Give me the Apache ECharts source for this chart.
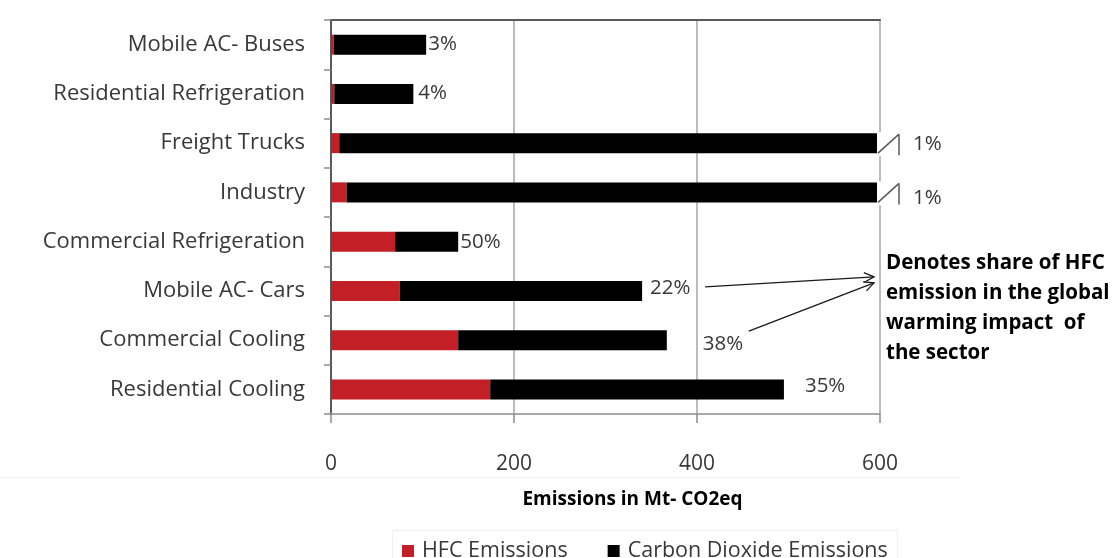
<!DOCTYPE html>
<html>
<head>
<meta charset="utf-8">
<title>HFC and CO2 emissions by sector</title>
<script src="https://cdn.jsdelivr.net/npm/echarts@6/dist/echarts.min.js"></script>
<style>
  html, body { margin: 0; padding: 0; background: #ffffff; }
  #main { width: 1113px; height: 558px; }
</style>
</head>
<body>
<div id="main"></div>
<script>
// Sectors, listed top to bottom
const categories = [
  'Mobile AC- Buses',
  'Residential Refrigeration',
  'Freight Trucks',
  'Industry',
  'Commercial Refrigeration',
  'Mobile AC- Cars',
  'Commercial Cooling',
  'Residential Cooling'
];

// Emissions in Mt CO2eq
const hfcEmissions = [3, 3.6, 9, 17, 70, 75, 139, 174];
const co2Emissions = [101, 86.4, 891, 1683, 69, 265, 228, 321];

const axisTicks = { min: 0, max: 600, step: 200 };

const seriesNames = ['HFC Emissions', 'Carbon Dioxide Emissions'];
const axisTitle = 'Emissions in Mt- CO2eq';
const noteLines = ['Denotes share of HFC', 'emission in the global', 'warming impact  of', 'the sector'];

// HFC share of each sector's total warming impact
function shareText(i) {
  const total = hfcEmissions[i] + co2Emissions[i];
  return Math.round(hfcEmissions[i] / total * 100) + '%';
}

// Small nudges for the share labels (x, y in px)
const labelNudge = {
  'Mobile AC- Buses': [0, 0],
  'Residential Refrigeration': [3, -1],
  'Freight Trucks': [31, 1],
  'Industry': [31, 6],
  'Commercial Refrigeration': [0, 1],
  'Mobile AC- Cars': [6, -3],
  'Commercial Cooling': [34, 4],
  'Residential Cooling': [19, -3]
};

const FONT = '"Open Sans", "Noto Sans", sans-serif';
const TEXT = '#383838';
const RED = '#C21F26';

const chart = echarts.init(document.getElementById('main'), null, { renderer: 'canvas' });

const co2Data = co2Emissions.map((v, i) => ({
  value: v,
  label: { offset: labelNudge[categories[i]] || [0, 0] }
}));

chart.setOption({
  animation: false,
  backgroundColor: '#ffffff',
  textStyle: { fontFamily: FONT },
  grid: { left: 331, right: 233, top: 20, bottom: 144, containLabel: false },
  legend: {
    data: seriesNames,
    left: 397,
    top: 535,
    icon: 'rect',
    itemWidth: 12,
    itemHeight: 12,
    itemGap: 40,
    textStyle: { fontFamily: FONT, fontSize: 21.5, color: TEXT, padding: [0, 0, 0, 3] }
  },
  xAxis: [
    {
      type: 'value',
      min: axisTicks.min,
      max: axisTicks.max,
      interval: axisTicks.step,
      axisLine: { show: true, lineStyle: { color: '#8c8c8c', width: 1.5 } },
      axisTick: { show: true, length: 9, lineStyle: { color: '#8c8c8c', width: 1.5 } },
      axisLabel: { margin: 40, fontSize: 21, color: TEXT, fontFamily: FONT },
      splitLine: { show: true, lineStyle: { color: '#a6a6a6', width: 1.5 } },
      name: axisTitle,
      nameLocation: 'middle',
      nameGap: 76,
      nameTextStyle: { fontFamily: FONT, fontSize: 19, fontWeight: 'bold', color: '#000', padding: [0, 0, 0, 54] }
    },
    {
      type: 'value',
      position: 'top',
      min: axisTicks.min,
      max: axisTicks.max,
      interval: axisTicks.step,
      axisLine: { show: true, lineStyle: { color: '#595959', width: 2 } },
      axisTick: { show: false },
      axisLabel: { show: false },
      splitLine: { show: false }
    }
  ],
  yAxis: [
    {
      type: 'category',
      inverse: true,
      data: categories,
      axisLine: { show: true, lineStyle: { color: '#8c8c8c', width: 1.5 } },
      axisTick: { show: true, length: 7, lineStyle: { color: '#8c8c8c', width: 1.5 } },
      axisLabel: { margin: 26, fontSize: 22, color: TEXT, fontFamily: FONT },
      splitLine: { show: false }
    },
    {
      type: 'category',
      inverse: true,
      position: 'right',
      data: categories,
      axisLine: { show: true, lineStyle: { color: '#595959', width: 2 } },
      axisTick: { show: false },
      axisLabel: { show: false }
    }
  ],
  series: [
    {
      name: seriesNames[0],
      type: 'bar',
      stack: 'total',
      barWidth: 20,
      itemStyle: { color: RED },
      data: hfcEmissions
    },
    {
      name: seriesNames[1],
      type: 'bar',
      stack: 'total',
      barWidth: 20,
      itemStyle: { color: '#000000' },
      label: {
        show: true,
        position: 'right',
        distance: 2,
        fontFamily: FONT,
        fontSize: 20.5,
        color: TEXT,
        formatter: p => shareText(p.dataIndex)
      },
      data: co2Data
    }
  ]
});

// Overlay: axis breaks on the clipped bars, callout arrows and the note
function toPx(v, i) { return chart.convertToPixel({ gridIndex: 0 }, [v, i]); }

const xEnd = toPx(axisTicks.max, 0)[0];
const graphics = [];
const LINE = { stroke: '#595959', lineWidth: 1.5 };

categories.forEach((c, i) => {
  const total = hfcEmissions[i] + co2Emissions[i];
  if (total > axisTicks.max) {
    const y = toPx(0, i)[1];
    graphics.push({ type: 'rect', shape: { x: xEnd - 3, y: y - 11, width: 8, height: 24 }, style: { fill: '#ffffff' }, z: 100 });
    graphics.push({ type: 'line', shape: { x1: xEnd - 2, y1: y + 10, x2: xEnd + 19, y2: y - 9 }, style: LINE, z: 101 });
    graphics.push({ type: 'line', shape: { x1: xEnd + 19, y1: y - 9, x2: xEnd + 19, y2: y + 12 }, style: LINE, z: 101 });
  }
});

function arrow(x1, y1, x2, y2) {
  const a = Math.atan2(y2 - y1, x2 - x1);
  const L = 11, w = 0.45;
  graphics.push({ type: 'line', shape: { x1, y1, x2, y2 }, style: { stroke: '#1a1a1a', lineWidth: 1.3 }, z: 101 });
  graphics.push({
    type: 'polyline',
    shape: { points: [
      [x2 - L * Math.cos(a - w), y2 - L * Math.sin(a - w)],
      [x2, y2],
      [x2 - L * Math.cos(a + w), y2 - L * Math.sin(a + w)]
    ] },
    style: { stroke: '#1a1a1a', lineWidth: 1.3, fill: null },
    z: 101
  });
}

const iCars = categories.indexOf('Mobile AC- Cars');
const iComm = categories.indexOf('Commercial Cooling');
const carsEnd = toPx(hfcEmissions[iCars] + co2Emissions[iCars], iCars);
const commEnd = toPx(hfcEmissions[iComm] + co2Emissions[iComm], iComm);

arrow(carsEnd[0] + 63, carsEnd[1] - 4, xEnd - 6, carsEnd[1] - 14);
arrow(commEnd[0] + 82, commEnd[1] - 9, xEnd - 6, carsEnd[1] - 8);

graphics.push({
  type: 'text',
  x: xEnd + 6,
  y: carsEnd[1] - 43,
  style: {
    text: noteLines.join('\n'),
    font: 'bold 20.5px ' + FONT,
    fill: '#000000',
    lineHeight: 30,
    textVerticalAlign: 'top'
  },
  z: 101
});

// faint frame lines around the lower panel
graphics.push({ type: 'line', shape: { x1: 0, y1: 477.5, x2: 959, y2: 477.5 }, style: { stroke: '#eeeeee', lineWidth: 1 }, z: 0 });
graphics.push({ type: 'polyline', shape: { points: [[392.5, 558], [392.5, 530.5], [897.5, 530.5], [897.5, 558]] }, style: { stroke: '#f0f0f0', lineWidth: 1, fill: null }, z: 0 });

chart.setOption({ graphic: graphics });
</script>
</body>
</html>
